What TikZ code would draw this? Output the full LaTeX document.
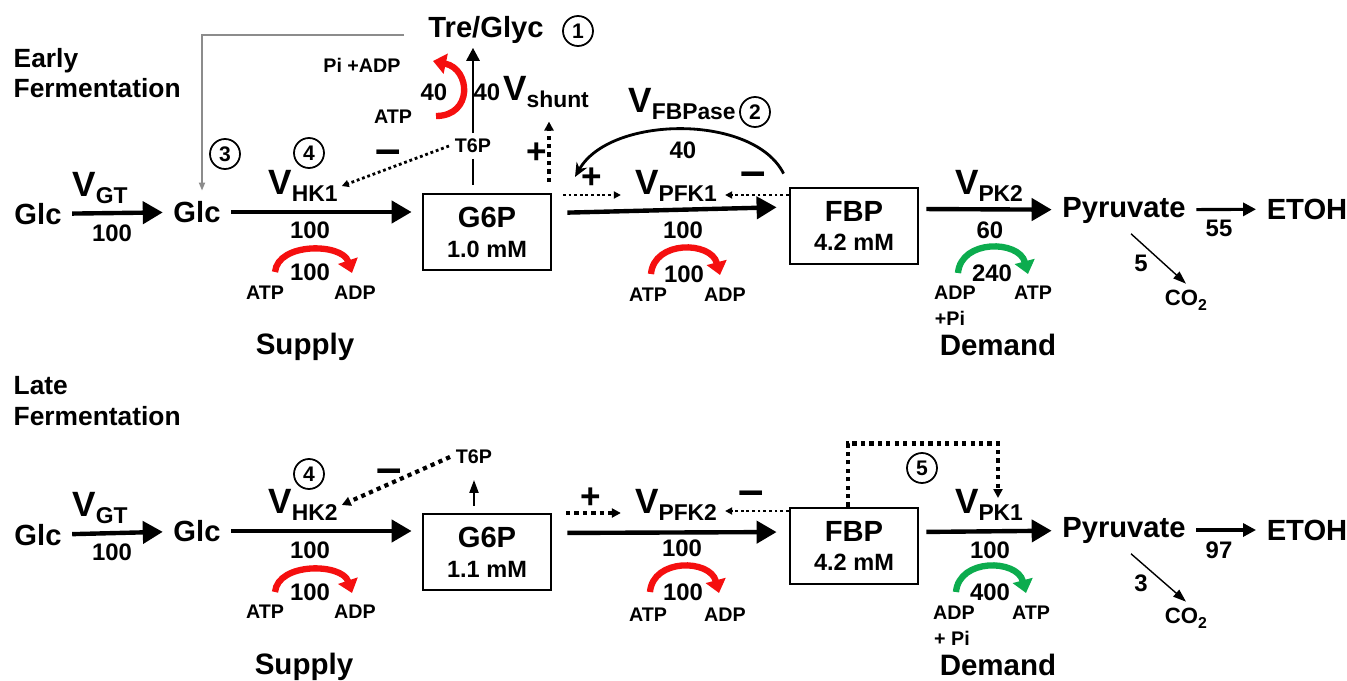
\documentclass[tikz,border=0pt]{standalone}
\usepackage{fontspec}
\setmainfont{Liberation Sans}
\usepackage{tikz}
\usetikzlibrary{arrows.meta, positioning, calc}
\definecolor{myred}{RGB}{245,15,15}
\definecolor{mygreen}{RGB}{12,172,78}
\definecolor{mygray}{RGB}{140,140,140}
\newcommand{\vrate}[1]{{\fontsize{10}{12}\selectfont V}\raisebox{-1.8pt}{\fontsize{6.5}{8}\selectfont #1}}
\newcommand{\cotwo}{CO\raisebox{-1.5pt}{\fontsize{4.5}{5}\selectfont 2}}
\tikzset{
  metab/.style={font=\fontsize{8.3}{10}\selectfont\bfseries, inner sep=0.1cm},
  pool/.style={rectangle, draw, line width=0.8pt, minimum width=1.28cm,
    minimum height=0.76cm, align=center, font=\fontsize{8.3}{8.5}\selectfont\bfseries},
  enz/.style={font=\bfseries, inner sep=1pt},
  flux/.style={font=\fontsize{6.8}{8}\selectfont\bfseries, inner sep=0pt},
  cofac/.style={font=\fontsize{5.6}{7}\selectfont\bfseries, inner sep=1.5pt},
  phase/.style={align=left, font=\fontsize{7.5}{8.6}\selectfont\bfseries, inner sep=0pt},
  zone/.style={font=\fontsize{8.4}{10}\selectfont\bfseries, inner sep=0pt},
  numtag/.style={circle, draw, line width=0.5pt, minimum size=0.3cm, inner sep=0pt,
    font=\fontsize{6}{7}\selectfont\bfseries},
  actsign/.style={font=\fontsize{10}{10}\selectfont\bfseries, inner sep=0pt},
  inhsign/.style={font=\fontsize{13}{13}\selectfont\bfseries, inner sep=0pt},
  heavy/.style={-{Triangle[length=0.2cm, width=0.22cm]}, line width=1.25pt},
  medium/.style={-{Triangle[length=0.13cm, width=0.13cm]}, line width=0.9pt},
  slim/.style={-{Triangle[length=0.13cm, width=0.09cm]}, line width=0.4pt},
  effect/.style={-{Triangle[length=0.07cm, width=0.07cm]}, line width=0.8pt,
    dash pattern=on 0.8pt off 0.8pt},
  strongeffect/.style={-{Triangle[length=0.09cm, width=0.09cm]}, line width=1.2pt,
    dash pattern=on 1.2pt off 1.2pt},
  curved/.style={-{Stealth[length=0.14cm, width=0.12cm]}, line width=0.8pt},
  backflow/.style={-{Triangle[length=0.08cm, width=0.06cm]}, line width=0.5pt, draw=mygray},
  atparc/.style={line width=1.8pt, -{Triangle[length=0.13cm, width=0.2cm]}}
}

\begin{document}
\begin{tikzpicture}[x=1cm, y=-1cm]
  \useasboundingbox (0,0) rectangle (13.47,6.81);

  % early fermentation
  \node[phase, anchor=west] (early) at (0.13,0.73) {Early\\Fermentation};
  \node[metab, inner sep=1pt] (treglyc) at (4.86,0.30) {Tre/Glyc};
  \node[numtag] (tag1) at (5.78,0.31) {1};
  \node[metab] (glcA) at (0.38,2.14) {Glc};
  \node[metab] (glcB) at (1.97,2.12) {Glc};
  \node[pool] (g6pA) at (4.87,2.32) {G6P\\{\fontsize{6.7}{8}\selectfont 1.0 mM}};
  \node[pool] (fbpA) at (8.54,2.26) {FBP\\{\fontsize{6.7}{8}\selectfont 4.2 mM}};
  \node[metab] (pyrA) at (11.24,2.10) {Pyruvate};
  \node[metab] (etohA) at (13.07,2.09) {ETOH};
  \node[cofac, font=\fontsize{6.3}{7}\selectfont\bfseries] (co2A) at (11.86,3.00) {\cotwo};
  \node[enz] (vgtA) at (1.00,1.88) {\vrate{GT}};
  \node[enz] (vhkA) at (3.03,1.86) {\vrate{HK1}};
  \node[enz] (vshunt) at (5.46,0.92) {\vrate{shunt}};
  \node[enz] (vfbpase) at (6.82,1.04) {\vrate{FBPase}};
  \node[enz] (vpfkA) at (6.76,1.86) {\vrate{PFK1}};
  \node[enz] (vpkA) at (9.89,1.86) {\vrate{PK2}};
  \node[numtag] (tag2) at (7.55,1.12) {2};
  \node[numtag] (tag3) at (2.25,1.54) {3};
  \node[numtag] (tag4A) at (3.09,1.53) {4};
  \node[cofac] (t6pA) at (4.73,1.46) {T6P};
  \node[flux] (fgtA) at (1.12,2.33) {100};
  \node[flux] (fhkA) at (3.10,2.30) {100};
  \node[flux] (fshunt) at (4.87,0.92) {40};
  \node[flux] (ffbpase) at (6.83,1.50) {40};
  \node[flux] (fpfkA) at (6.83,2.30) {100};
  \node[flux] (fpkA) at (9.90,2.30) {60};
  \node[flux] (fetohA) at (12.19,2.28) {55};
  \node[flux] (fco2A) at (11.41,2.63) {5};
  \node[inhsign] (hkinhA) at (3.88,1.57) {\textendash};
  \node[actsign] (shuntact) at (5.37,1.53) {+};
  \node[actsign] (pfkplusA) at (5.92,1.78) {+};
  \node[inhsign] (pfkinhsA) at (7.53,1.79) {\textendash};
  \node[zone] (supplyA) at (3.05,3.47) {Supply};
  \node[zone] (demandA) at (9.98,3.45) {Demand};

  % ATP balance, early
  \node[cofac] (piadp) at (3.62,0.65) {Pi +ADP};
  \node[cofac] (atpsh) at (3.93,1.17) {ATP};
  \node[flux] (shuntatp) at (4.34,0.92) {40};
  \draw[atparc, myred] ($(shuntatp)+(0.02,0.24)$) .. controls +(0.37,0) and +(0.38,0.08) .. ($(shuntatp)+(-0.01,-0.31)$);
  \node[cofac] (atphkA) at (2.65,2.93) {ATP};
  \node[cofac] (adphkA) at (3.55,2.93) {ADP};
  \node[flux] (hkatpA) at (3.10,2.72) {100};
  \draw[atparc, myred] ($(hkatpA)+(-0.35,0)$) .. controls +(0.03,-0.30) and +(-0.10,-0.30) .. ($(hkatpA)+(0.42,0.01)$);
  \node[cofac] (atppfkA) at (6.48,2.95) {ATP};
  \node[cofac] (adppfkA) at (7.25,2.95) {ADP};
  \node[flux] (pfkatpA) at (6.84,2.74) {100};
  \draw[atparc, myred] ($(pfkatpA)+(-0.33,0)$) .. controls +(0.03,-0.34) and +(-0.09,-0.34) .. ($(pfkatpA)+(0.36,0.01)$);
  \node[cofac] (adppkA) at (9.55,2.93) {ADP};
  \node[cofac] (pipkA) at (9.50,3.18) {+Pi};
  \node[cofac] (atppkA) at (10.33,2.93) {ATP};
  \node[flux] (pkatpA) at (9.92,2.73) {240};
  \draw[atparc, mygreen] ($(pkatpA)+(-0.34,0)$) .. controls +(0.03,-0.34) and +(-0.09,-0.34) .. ($(pkatpA)+(0.36,0.01)$);

  % connectors, early
  \draw[heavy] (glcA) -- (glcB);
  \draw[heavy, shorten >=0.1cm] (glcB) -- (glcB -| g6pA.west);
  \draw[heavy, shorten <=0.15cm, shorten >=0.12cm] ([yshift=0.19cm]g6pA.east) -- ([yshift=0.19cm]fbpA.west);
  \draw[heavy, shorten <=0.07cm] ([yshift=0.17cm]fbpA.east) -- (pyrA);
  \draw[medium] (pyrA) -- (etohA);
  \draw[slim] ([xshift=0.07cm]pyrA.south) -- (co2A.north);
  \draw[medium, line width=0.8pt] (t6pA) -- (t6pA |- treglyc.south);
  \draw[line width=0.8pt, shorten >=0.08cm] (t6pA) -- (t6pA |- g6pA.north);
  \draw[effect] (t6pA.west) -- (vhkA.east);
  \coordinate (shuntfrom) at (5.49,1.82);
  \draw[strongeffect, shorten >=0.1cm] (shuntfrom) -- (shuntfrom |- vshunt.south);
  \coordinate (pfkactA) at (5.63,1.95);
  \draw[effect, shorten >=0.1cm] (pfkactA) -- (pfkactA -| vpfkA.west);
  \coordinate (pfkinhA) at ([yshift=0.31cm]fbpA.west);
  \draw[effect, shorten >=0.04cm] (pfkinhA) -- (pfkinhA -| vpfkA.east);
  \coordinate (fbpasein) at (5.75,1.77);
  \draw[curved] ([xshift=-0.05cm,yshift=0.13cm]fbpA.north west) .. controls +(-0.30,-0.60) and +(0.35,-0.62) .. (fbpasein);
  \draw[backflow] ([xshift=-0.2cm,yshift=-0.05cm]treglyc.west) -| ([xshift=0.05cm]glcB.north);

  % late fermentation
  \node[phase, anchor=west] (late) at (0.13,4.01) {Late\\Fermentation};
  \node[metab] (glcC) at (0.38,5.35) {Glc};
  \node[metab] (glcD) at (1.97,5.31) {Glc};
  \node[pool] (g6pB) at (4.87,5.52) {G6P\\{\fontsize{6.7}{8}\selectfont 1.1 mM}};
  \node[pool] (fbpB) at (8.54,5.46) {FBP\\{\fontsize{6.7}{8}\selectfont 4.2 mM}};
  \node[metab] (pyrB) at (11.24,5.30) {Pyruvate};
  \node[metab] (etohB) at (13.07,5.30) {ETOH};
  \node[cofac, font=\fontsize{6.3}{7}\selectfont\bfseries] (co2B) at (11.86,6.18) {\cotwo};
  \node[enz] (vgtB) at (1.00,5.08) {\vrate{GT}};
  \node[enz] (vhkB) at (3.03,5.05) {\vrate{HK2}};
  \node[enz] (vpfkB) at (6.76,5.05) {\vrate{PFK2}};
  \node[enz] (vpkB) at (9.89,5.05) {\vrate{PK1}};
  \node[numtag] (tag4B) at (3.09,4.74) {4};
  \node[numtag] (tag5) at (9.22,4.68) {5};
  \node[cofac] (t6pB) at (4.74,4.57) {T6P};
  \node[flux] (fgtB) at (1.12,5.52) {100};
  \node[flux] (fhkB) at (3.10,5.50) {100};
  \node[flux] (fpfkB) at (6.82,5.48) {100};
  \node[flux] (fpkB) at (9.90,5.50) {100};
  \node[flux] (fetohB) at (12.19,5.50) {97};
  \node[flux] (fco2B) at (11.41,5.83) {3};
  \node[inhsign] (hkinhB) at (3.89,4.76) {\textendash};
  \node[actsign] (pfkplusB) at (5.91,4.98) {+};
  \node[inhsign] (pfkinhsB) at (7.51,4.98) {\textendash};
  \node[zone] (supplyB) at (3.04,6.67) {Supply};
  \node[zone] (demandB) at (9.98,6.65) {Demand};

  % ATP balance, late
  \node[cofac] (atphkB) at (2.65,6.12) {ATP};
  \node[cofac] (adphkB) at (3.55,6.12) {ADP};
  \node[flux] (hkatpB) at (3.10,5.92) {100};
  \draw[atparc, myred] ($(hkatpB)+(-0.35,0)$) .. controls +(0.03,-0.30) and +(-0.10,-0.30) .. ($(hkatpB)+(0.42,0.01)$);
  \node[cofac] (atppfkB) at (6.48,6.15) {ATP};
  \node[cofac] (adppfkB) at (7.25,6.15) {ADP};
  \node[flux] (pfkatpB) at (6.83,5.92) {100};
  \draw[atparc, myred] ($(pfkatpB)+(-0.33,0)$) .. controls +(0.03,-0.34) and +(-0.09,-0.34) .. ($(pfkatpB)+(0.36,0.01)$);
  \node[cofac] (adppkB) at (9.54,6.13) {ADP};
  \node[cofac] (pipkB) at (9.52,6.38) {+ Pi};
  \node[cofac] (atppkB) at (10.31,6.13) {ATP};
  \node[flux] (pkatpB) at (9.90,5.92) {400};
  \draw[atparc, mygreen] ($(pkatpB)+(-0.34,0)$) .. controls +(0.03,-0.34) and +(-0.09,-0.34) .. ($(pkatpB)+(0.36,0.01)$);

  % connectors, late
  \draw[heavy] (glcC) -- (glcD);
  \draw[heavy, shorten >=0.1cm] (glcD) -- (glcD -| g6pB.west);
  \draw[heavy, shorten <=0.15cm, shorten >=0.12cm] ([yshift=0.19cm]g6pB.east) -- ([yshift=0.14cm]fbpB.west);
  \draw[heavy, shorten <=0.07cm] ([yshift=0.14cm]fbpB.east) -- (pyrB);
  \draw[medium] (pyrB) -- (etohB);
  \draw[slim] ([xshift=0.07cm]pyrB.south) -- (co2B.north);
  \draw[slim, line width=0.6pt, shorten <=0.07cm, shorten >=0.1cm] (g6pB.north -| t6pB) -- (t6pB);
  \draw[strongeffect] (t6pB.west) -- (vhkB.east);
  \coordinate (pfkactB) at (5.66,5.13);
  \draw[strongeffect, shorten >=0.1cm] (pfkactB) -- (pfkactB -| vpfkB.west);
  \coordinate (pfkinhB) at ([yshift=0.35cm]fbpB.west);
  \draw[effect, shorten >=0.04cm] (pfkinhB) -- (pfkinhB -| vpfkB.east);
  \coordinate (pkactB) at (9.98,4.98);
  \draw[strongeffect] ([xshift=-0.06cm]fbpB.north) -- ++(0,-0.63) -| (pkactB);
\end{tikzpicture}
\end{document}
